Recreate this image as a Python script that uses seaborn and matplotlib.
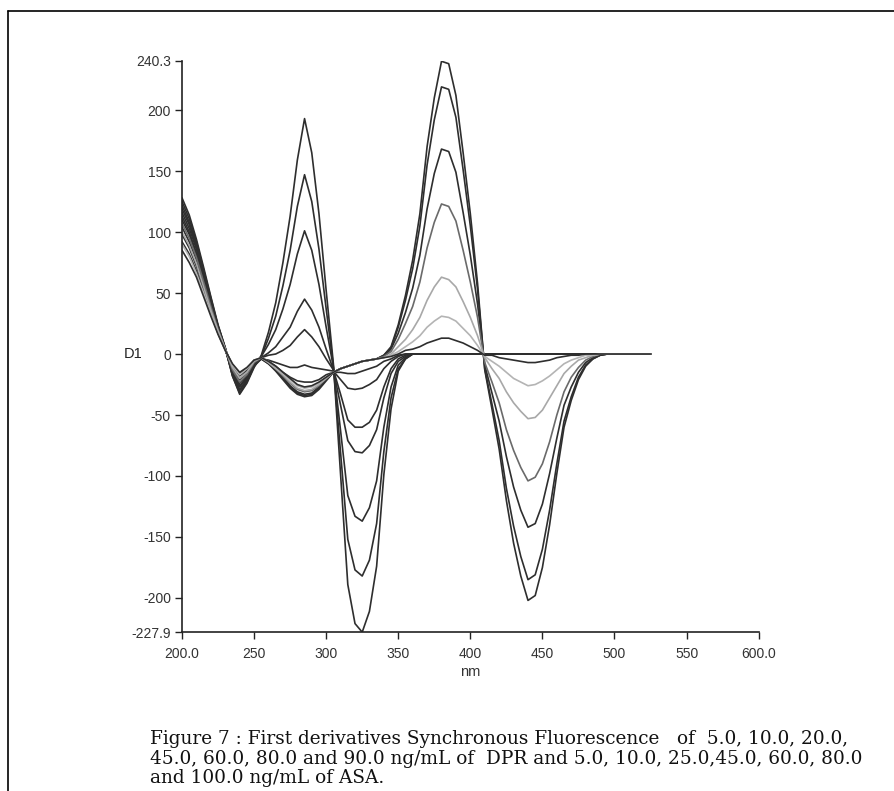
import numpy as np
import pandas as pd
import seaborn as sns
import matplotlib.pyplot as plt
from matplotlib.lines import Line2D

# wavelength grids (nm)
nm_dpr = np.arange(200, 365, 5)   # DPR curves read 200..360, zero afterwards
nm_asa = np.arange(200, 500, 5)   # ASA curves read 200..495
nm_tail = 525                     # flat baseline end

# first derivative readings, DPR series (highest conc first)
dpr_1 = [128, 114, 94, 71, 47, 24, 5, -18, -33, -24, -11,
         -1, 18, 42, 75, 113, 159, 193, 165, 115, 52, -8,
         -99, -189, -221, -228, -211, -174, -99, -45, -14, -4, 0]
dpr_2 = [122, 108, 90, 67, 44, 23, 5, -17, -30, -22, -10,
         -2, 13, 31, 56, 85, 121, 147, 125, 86, 37, -10,
         -81, -152, -177, -182, -169, -139, -80, -36, -12, -4, 0]
dpr_3 = [116, 103, 86, 64, 42, 22, 4, -15, -27, -20, -9,
         -2, 8, 20, 37, 57, 82, 101, 85, 57, 22, -11,
         -63, -116, -133, -137, -126, -104, -60, -27, -9, -3, 0]
dpr_4 = [110, 98, 81, 61, 40, 21, 4, -13, -24, -18, -8,
         -3, 1, 6, 14, 22, 35, 45, 36, 22, 4, -13,
         -42, -71, -80, -81, -75, -62, -36, -16, -6, -2, 0]
dpr_5 = [104, 92, 77, 57, 38, 19, 4, -12, -21, -15, -7,
         -3, -1, 0, 3, 7, 14, 20, 14, 6, -4, -13,
         -33, -54, -60, -60, -56, -46, -27, -12, -4, -1, 0]
dpr_6 = [98, 87, 72, 54, 36, 18, 4, -10, -18, -13, -6,
         -4, -5, -7, -9, -11, -11, -9, -11, -12, -13, -14,
         -21, -28, -29, -28, -25, -21, -12, -6, -2, 0, 0]
dpr_7 = [92, 82, 68, 51, 33, 17, 3, -9, -16, -12, -5,
         -4, -6, -10, -15, -19, -22, -23, -23, -21, -17, -15,
         -15, -16, -16, -14, -12, -10, -6, -4, -1, 0, 0]

# ASA series
asa_1 = [125, 111, 92, 69, 46, 23, 5, -18, -32, -23, -10,
         -4, -8, -14, -21, -28, -33, -35, -34, -29, -22, -15,
         -12, -10, -8, -6, -5, -4,
         -1, 6, 24, 48, 77, 115, 170, 210, 240, 238, 212, 165, 115, 58, -13, -45,
         -78, -120, -155, -182, -202, -198, -175, -140, -98, -60, -38, -21, -10, -4, -1, 0]
asa_2 = [119, 106, 88, 66, 43, 22, 4, -16, -29, -21, -9,
         -4, -8, -13, -20, -27, -32, -34, -33, -28, -21, -15,
         -12, -10, -8, -6, -5, -4,
         -1, 5, 22, 44, 70, 105, 155, 192, 219, 217, 194, 151, 105, 53, -12, -41,
         -71, -110, -141, -166, -185, -181, -160, -128, -90, -55, -35, -19, -9, -4, -1, 0]
asa_3 = [113, 100, 83, 62, 41, 21, 4, -14, -26, -19, -8,
         -4, -7, -13, -19, -26, -31, -33, -32, -27, -21, -15,
         -12, -10, -8, -6, -5, -4,
         -2, 4, 17, 34, 54, 81, 119, 148, 168, 166, 149, 116, 81, 41, -9, -32,
         -55, -84, -109, -128, -142, -139, -123, -98, -69, -42, -27, -15, -7, -3, -1, 0]
asa_4 = [107, 95, 79, 59, 39, 20, 4, -13, -23, -17, -7,
         -3, -7, -12, -18, -24, -29, -31, -30, -26, -20, -15,
         -12, -10, -8, -6, -5, -4,
         -2, 2, 12, 25, 39, 59, 87, 108, 123, 121, 109, 85, 59, 30, -7, -23,
         -40, -62, -79, -93, -104, -101, -90, -72, -50, -31, -19, -11, -5, -2, 0, 0]
asa_5 = [100, 89, 74, 55, 36, 19, 4, -11, -20, -15, -6,
         -3, -7, -12, -17, -23, -28, -30, -29, -25, -20, -15,
         -12, -10, -8, -6, -5, -4,
         -3, 0, 6, 12, 20, 30, 44, 55, 63, 61, 55, 43, 30, 15, -3, -12,
         -20, -31, -40, -47, -53, -52, -46, -36, -26, -16, -10, -5, -3, -1, 0, 0]
asa_6 = [90, 80, 66, 50, 33, 17, 3, -9, -17, -12, -5,
         -3, -6, -11, -16, -21, -26, -28, -27, -24, -19, -15,
         -12, -10, -8, -6, -5, -4,
         -3, -1, 2, 6, 10, 15, 22, 27, 31, 30, 27, 21, 15, 7, -2, -6,
         -10, -15, -20, -23, -26, -25, -22, -18, -13, -8, -5, -3, -1, -1, 0, 0]
asa_7 = [85, 75, 63, 47, 31, 16, 3, -8, -15, -11, -5,
         -3, -6, -10, -15, -20, -25, -27, -26, -23, -19, -15,
         -12, -10, -8, -6, -5, -4,
         -3, -2, 0, 3, 4, 6, 9, 11, 13, 13, 11, 9, 6, 3, -1, -1,
         -3, -4, -5, -6, -7, -7, -6, -5, -3, -2, -1, -1, 0, 0, 0, 0]

dpr_series = {'DPR 90': dpr_1, 'DPR 80': dpr_2, 'DPR 60': dpr_3, 'DPR 45': dpr_4,
              'DPR 20': dpr_5, 'DPR 10': dpr_6, 'DPR 5': dpr_7}
asa_series = {'ASA 100': asa_1, 'ASA 80': asa_2, 'ASA 60': asa_3, 'ASA 45': asa_4,
              'ASA 25': asa_5, 'ASA 10': asa_6, 'ASA 5': asa_7}

y_ticks = [-227.9, -200, -150, -100, -50, 0, 50, 100, 150, 200, 240.3]
y_labels = ['-227.9', '-200', '-150', '-100', '-50', '0', '50', '100', '150', '200', '240.3']
x_ticks = [200, 250, 300, 350, 400, 450, 500, 550, 600]
x_labels = ['200.0', '250', '300', '350', '400', '450', '500', '550', '600.0']

caption = ("Figure 7 : First derivatives Synchronous Fluorescence   of  5.0, 10.0, 20.0,\n"
           "45.0, 60.0, 80.0 and 90.0 ng/mL of  DPR and 5.0, 10.0, 25.0,45.0, 60.0, 80.0\n"
           "and 100.0 ng/mL of ASA.")

rows = []
for name, vals in dpr_series.items():
    for x, y in zip(nm_dpr, vals):
        rows.append((name, x, y))
    rows.append((name, nm_tail, 0))
for name, vals in asa_series.items():
    for x, y in zip(nm_asa, vals):
        rows.append((name, x, y))
    rows.append((name, nm_tail, 0))
df = pd.DataFrame(rows, columns=['curve', 'nm', 'D1'])

palette = {k: '#2e2e2e' for k in list(dpr_series) + list(asa_series)}
palette['ASA 45'] = '#6a6a6a'
palette['ASA 25'] = '#a8a8a8'
palette['ASA 10'] = '#b4b4b4'

sns.set_style('white')
plt.rcParams['font.family'] = ['Liberation Sans', 'DejaVu Sans']

fig = plt.figure(figsize=(8.94, 7.91), dpi=100)
ax = fig.add_axes([0.2036, 0.201, 0.645, 0.722])

sns.lineplot(data=df, x='nm', y='D1', hue='curve', palette=palette, estimator=None,
             linewidth=1.2, legend=False, ax=ax)

ax.set_xlim(200, 600)
ax.set_ylim(-227.9, 240.3)
ax.set_xticks(x_ticks)
ax.set_xticklabels(x_labels)
ax.set_yticks(y_ticks)
ax.set_yticklabels(y_labels)
ax.tick_params(axis='both', bottom=True, left=True, direction='out', length=5, width=1,
               colors='#222', labelsize=10, labelcolor='#333')
ax.tick_params(axis='y', pad=3)
ax.tick_params(axis='x', pad=6)
for s in ['top', 'right']:
    ax.spines[s].set_visible(False)
for s in ['left', 'bottom']:
    ax.spines[s].set_color('#222')
    ax.spines[s].set_linewidth(1.2)

ax.set_xlabel('nm', fontsize=10.5, color='#333', labelpad=3)
ax.set_ylabel('')
ax.text(-0.085, 0, 'D1', transform=ax.get_yaxis_transform(), fontsize=10.5,
        color='#222', ha='center', va='center')

# page frame from the scan
fig.add_artist(Line2D([8 / 894, 1.0], [1 - 11 / 791, 1 - 11 / 791], color='black', lw=1.2))
fig.add_artist(Line2D([8 / 894, 8 / 894], [0.0, 1 - 11 / 791], color='black', lw=1.2))

fig.text(150 / 894, 1 - 730 / 791, caption, family=['DejaVu Serif'],
         fontsize=13.3, color='#111', ha='left', va='top', linespacing=1.12)

plt.savefig('out.png', dpi=100)
